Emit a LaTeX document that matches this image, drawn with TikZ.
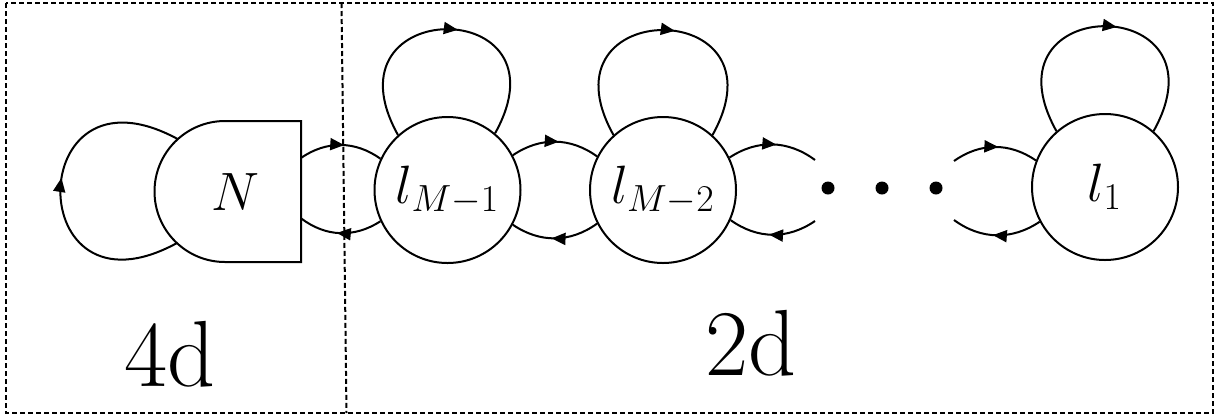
\documentclass[tikz,border=0pt]{standalone}
\usepackage{fix-cm}
\usepackage{fontspec}
\usetikzlibrary{arrows.meta,decorations.markings,calc}
\begin{document}
\begin{tikzpicture}[x=0.5pt,y=-0.5pt, line width=1pt,
  st/.style={circle,draw,minimum size=73pt,inner sep=0pt,font=\fontsize{27}{32}\selectfont},
  midarrow/.style={postaction={decorate},decoration={markings,mark=at position 0.54 with {\arrow{Triangle[length=7pt,width=6pt]}}}},
  frame/.style={dash pattern=on 2.5pt off 1.5pt, line width=1pt},
  big/.style={font=\fontsize{47}{56}\selectfont, inner sep=0pt},
  dot/.style={circle,fill,minimum size=6.5pt,inner sep=0pt}]
\useasboundingbox (0,0) rectangle (1216,414);
% frames
\draw[frame] (6,3) rectangle (1213,413);
\draw[frame] (341.5,3) -- (346.5,413);
% N shape
\node[circle,minimum size=70.5pt,inner sep=0pt,outer sep=0pt] (Narc) at (225,191.5) {};
\draw (Narc.north) -- ++(76,0) coordinate (Nne) -- ++(0,141) coordinate (Nse)
  -- (Narc.south) arc[start angle=270,end angle=90,radius=35.25pt] -- cycle;
\node[font=\fontsize{27}{32}\selectfont] (N) at (235,192) {$N$};
\coordinate (Nr1) at ($(Nne)!0.262!(Nse)$);
\coordinate (Nr2) at ($(Nne)!0.69!(Nse)$);
% states
\node[st] (a) at (447.5,190) {$l_{M-1}$};
\node[st] (b) at (663,190) {$l_{M-2}$};
\node[st] (c) at (1105,187) {$l_1$};
% dots
\node[dot] (d1) at (828,188) {};
\node[dot] (d2) at (882,188) {};
\node[dot] (d3) at (936,188) {};
% free ends
\coordinate (e1) at (815,160);
\coordinate (e2) at (815,221);
\coordinate (e3) at (954,161);
\coordinate (e4) at (954,220);
% self loops
\draw[midarrow] (Narc.227.5) .. controls +(-156,85) and +(-156,-85) .. (Narc.132.5);
\draw[midarrow] (a.132) .. controls +(-78,-140) and +(78,-140) .. (a.50);
\draw[midarrow] (b.132) .. controls +(-78,-140) and +(78,-140) .. (b.48);
\draw[midarrow] (c.131) .. controls +(-78,-140) and +(78,-140) .. (c.49);
% connections
\draw[midarrow] (Nr1) to[bend left=35] (a.155);
\draw[midarrow] (a.205) to[bend left=35] (Nr2);
\draw[midarrow] (a.28) to[bend left=35] (b.153);
\draw[midarrow] (b.207) to[bend left=35] (a.332);
\draw[midarrow] (b.26) to[bend left=35] (e1);
\draw[midarrow] (e2) to[bend left=35] (b.336);
\draw[midarrow] (e3) to[bend left=35] (c.159);
\draw[midarrow] (c.208) to[bend left=35] (e4);
% labels
\node[big] (t4) at (170,354) {4d};
\node[big] (t2) at (751,343) {2d};
\end{tikzpicture}
\end{document}
